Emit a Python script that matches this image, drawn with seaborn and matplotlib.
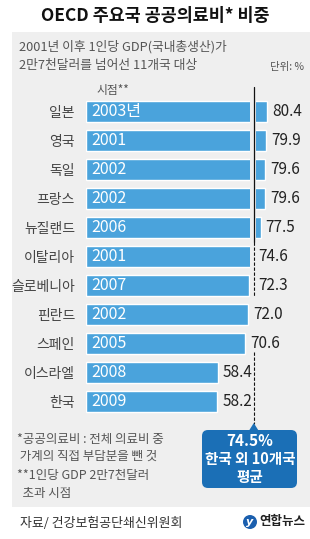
import numpy as np
import pandas as pd
import matplotlib
matplotlib.use('Agg')
import matplotlib.pyplot as plt
import matplotlib.transforms as mtransforms
from matplotlib.patches import Rectangle, FancyBboxPatch, Polygon, Circle
import seaborn as sns

# data
countries = ['일본', '영국', '독일', '프랑스', '뉴질랜드', '이탈리아',
             '슬로베니아', '핀란드', '스페인', '이스라엘', '한국']
values = [80.4, 79.9, 79.6, 79.6, 77.5, 74.6, 72.3, 72.0, 70.6, 58.4, 58.2]
years = ['2003년', '2001', '2002', '2002', '2006', '2001',
         '2007', '2002', '2005', '2008', '2009']
avg = 74.5

title = 'OECD 주요국 공공의료비* 비중'
subtitle = ['2001년 이후 1인당 GDP(국내총생산)가', '2만7천달러를 넘어선 11개국 대상']
unit = '단위: %'
notes = ['*공공의료비 : 전체 의료비 중', ' 가계의 직접 부담분을 뺀 것',
         '**1인당 GDP 2만7천달러', '  초과 시점']
source = '자료/ 건강보험공단쇄신위원회'

df = pd.DataFrame({'country': countries, 'value': values, 'year': years})

sns.set_theme(style='white')
plt.rcParams['font.family'] = ['Noto Sans CJK KR', 'DejaVu Sans']
NUM = ['Liberation Sans Narrow', 'Noto Sans CJK KR']

BAR = '#4aa3dc'
BG = '#efefef'
BOX = '#1b6fb6'

W, H = 310, 539
fig = plt.figure(figsize=(W / 100, H / 100), dpi=100)
fig.patch.set_facecolor('white')

def fx(px):
    return px / W

def fy(py):
    return 1 - py / H

# gray panel
fig.patches.append(Rectangle((fx(12), fy(507)), fx(310) - fx(12), fy(32) - fy(507),
                             transform=fig.transFigure, facecolor=BG, edgecolor='none', zorder=-2))

# bar axes: x=0 at px 86, 2.252 px per unit
x0, x1 = 86, 310
top, bot = 97, 416
ax = fig.add_axes([fx(x0), fy(bot), fx(x1) - fx(x0), fy(top) - fy(bot)])
ax.set_facecolor('none')
sns.barplot(data=df, x='value', y='country', orient='h', color=BAR, saturation=1,
            width=0.72, ax=ax, zorder=2)
ax.set_xlim(0, (x1 - x0) / 2.252)
ax.set_ylim(len(countries) - 0.5, -0.5)
ax.set_xlabel('')
ax.set_ylabel('')
ax.set_xticks([])
ax.tick_params(axis='y', length=0, pad=8)
ax.set_yticks(range(len(countries)))
ax.set_yticklabels(countries, fontsize=10, color='#444444')
for s in ax.spines.values():
    s.set_visible(False)

# gap around the average line
ax.axvspan(72.95, 75.6, color=BG, zorder=3, lw=0)

for i, (v, yr) in enumerate(zip(values, years)):
    ax.text(2.3, i, yr, color='white', fontsize=11.5, va='center', ha='left',
            family=NUM, zorder=6)
    lx = v + 2.3
    if 72.2 < v < 75.6:
        lx = 76.3
    ax.text(lx, i, f'{v:.1f}', color='#222222', fontsize=11, va='center', ha='left',
            family=NUM, zorder=6)

# average line (x in data, y in figure)
tr = mtransforms.blended_transform_factory(ax.transData, fig.transFigure)
ax.plot([avg, avg], [fy(87), fy(242)], color='#111111', lw=0.9, transform=tr, clip_on=False, zorder=5)
ax.plot([avg, avg], [fy(242), fy(297)], color='#111111', lw=0.8, ls=(0, (3, 1.5)),
        transform=tr, clip_on=False, zorder=5)
ax.plot([avg, avg], [fy(352), fy(424)], color='#111111', lw=0.8, ls=(0, (3, 1.5)),
        transform=tr, clip_on=False, zorder=5)

# average box
lx_px = x0 + avg * 2.252
inch = fig.dpi_scale_trans
box = FancyBboxPatch((202 / 100, (H - 488) / 100), 95 / 100, 58 / 100,
                     boxstyle='round,pad=0,rounding_size=0.06', transform=inch,
                     facecolor=BOX, edgecolor='none', zorder=1)
fig.patches.append(box)
fig.patches.append(Polygon([((lx_px - 5) / 100, (H - 431) / 100), (lx_px / 100, (H - 423) / 100),
                            ((lx_px + 5) / 100, (H - 431) / 100)], closed=True, transform=inch,
                           facecolor=BOX, edgecolor='none', zorder=1))
fig.text(fx(250), fy(441), f'{avg}%', color='white', fontsize=11, fontweight='bold',
         ha='center', va='center')
fig.text(fx(250), fy(459), '한국 외 10개국', color='white', fontsize=10.5, fontweight='bold',
         ha='center', va='center')
fig.text(fx(250), fy(477), '평균', color='white', fontsize=10.5, fontweight='bold',
         ha='center', va='center')

# texts
fig.text(fx(155), fy(16), title, fontsize=12.5, fontweight='bold', color='#111111',
         ha='center', va='center')
fig.text(fx(19), fy(47), subtitle[0], fontsize=9.2, color='#555555', ha='left', va='center')
fig.text(fx(19), fy(66), subtitle[1], fontsize=9.2, color='#555555', ha='left', va='center')
fig.text(fx(304), fy(67), unit, fontsize=7.5, color='#555555', ha='right', va='center')
fig.text(fx(96), fy(91), '시점**', fontsize=8.5, color='#555555', ha='left', va='center')

for k, (t, yy) in enumerate(zip(notes, [439, 456, 476, 493])):
    fig.text(fx(17), fy(yy), t, fontsize=9, color='#555555', ha='left', va='center')

fig.text(fx(20), fy(523), source, fontsize=9.3, color='#333333', ha='left', va='center')

# logo
fig.patches.append(Circle((250 / 100, (H - 522) / 100), 7 / 100, transform=inch,
                          facecolor='#1b5fae', edgecolor='none'))
fig.text(fx(250), fy(522), 'y', color='white', fontsize=8, fontweight='bold',
         style='italic', ha='center', va='center', family='DejaVu Sans')
fig.text(fx(259), fy(522), '연합뉴스', fontsize=9, fontweight='bold', color='#222222',
         ha='left', va='center')

fig.savefig('out.png', dpi=100)
